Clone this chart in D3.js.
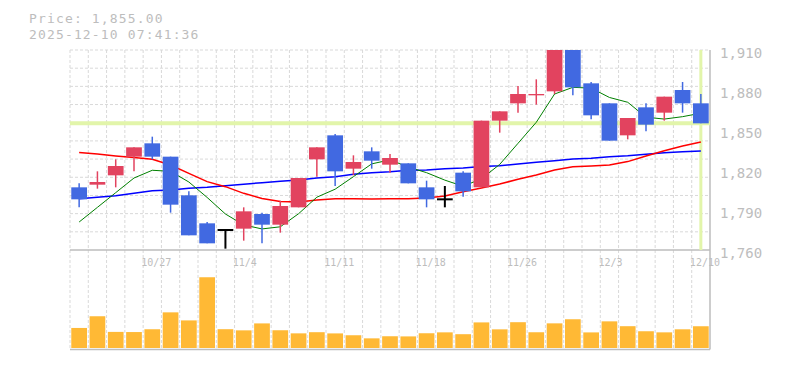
<!DOCTYPE html>
<html>
<head>
<meta charset="utf-8">
<script src="https://cdn.jsdelivr.net/npm/d3@7"></script>
<style>
  body { margin: 0; background: #fff; }
  svg { display: block; }
</style>
</head>
<body>
<div id="chart"></div>
<script>
// header
const priceLabel = "Price: 1,855.00";
const stampLabel = "2025-12-10 07:41:36";
const lastPrice = 1855;

// trading days
const dates = [
  "10/21","10/22","10/23","10/24","10/27","10/28","10/29","10/30","10/31",
  "11/4","11/5","11/6","11/7","11/10","11/11","11/12","11/13","11/14",
  "11/17","11/18","11/19","11/20","11/21","11/25","11/26","11/27","11/28",
  "12/1","12/2","12/3","12/4","12/5","12/8","12/9","12/10"
];
const dateTicks = ["10/27","11/4","11/11","11/18","11/26","12/3","12/10"];
const priceTicks = [1760, 1790, 1820, 1850, 1880, 1910];

// OHLC
const opens  = [1807,1809,1816,1830,1840,1830,1801,1780,1775,1776,1787,1779,1792,1828,1846,1821,1834,1824,1825,1807,1798,1818,1807,1857,1870,1876,1879,1910,1885,1870,1846,1867,1863,1880,1870];
const highs  = [1810,1819,1828,1837,1845,1830,1804,1781,1775,1792,1788,1797,1814,1837,1847,1831,1837,1832,1825,1812,1808,1819,1857,1864,1883,1888,1910,1910,1886,1870,1859,1870,1875,1886,1877];
const lows   = [1792,1806,1807,1819,1828,1788,1771,1765,1761,1767,1765,1773,1792,1815,1808,1816,1821,1818,1810,1792,1792,1800,1807,1848,1863,1869,1877,1876,1858,1842,1843,1849,1857,1863,1855];
const closes = [1798,1811,1823,1837,1830,1794,1771,1765,1775,1789,1779,1793,1814,1837,1819,1826,1827,1829,1810,1798,1798,1804,1857,1864,1877,1877,1910,1882,1861,1842,1859,1854,1875,1870,1855];

// volume (shares)
const volumes = [40100,63500,32200,31900,37500,71300,55200,141500,37600,35300,49200,35500,29300,31600,29200,25500,19300,23500,23200,29500,31300,27600,51200,37300,51600,31500,49300,57500,31200,53300,43600,33500,31300,37400,43500];

// moving averages
const maShort = [1781,1792,1803,1814,1819.8,1819,1811,1799.4,1787,1778.8,1775.8,1777.4,1787.2,1799.6,1805.6,1815,1824.6,1827.6,1822.2,1818,1812.4,1807.8,1813.4,1824.2,1840,1855.8,1877,1882,1881.4,1874.4,1870.8,1859.6,1858.2,1860,1862.6];
const maMid   = [1833.2,1832,1830.5,1829.3,1828,1823.7,1817.5,1811.3,1807.5,1802.5,1798.7,1796.3,1796,1797.5,1798.5,1798.5,1798.3,1798.5,1798.5,1799,1800.5,1803.7,1806.5,1809.5,1813,1816.3,1820,1822.5,1823,1823.8,1826.3,1830.5,1834.5,1838,1841];
const maLong  = [1798.5,1799.5,1800.7,1802.5,1804.5,1805,1806.3,1807,1808.2,1809.3,1810.5,1811.5,1812.5,1814,1815,1816.8,1818,1818.7,1819.8,1820,1821,1821.5,1822.6,1823.2,1824.5,1825.8,1827,1828.3,1828.8,1830,1830.7,1831.8,1833,1833.7,1834.3];

const width = 785, height = 370;
const left = 70, right = 710;
const priceTop = 50, priceBottom = 250;
const volTop = 250, volBottom = 349.5;

const UP = "#e2435f", DOWN = "#4169e1", VOL = "#ffb935";
const GRID = "#d9d9d9", FRAME = "#bdbdbd", TEXT = "#bdbdbd";
const MARK = "#e2f5aa";
const MONO = "'DejaVu Sans Mono', 'Liberation Mono', monospace";

const svg = d3.select("#chart").append("svg")
    .attr("width", width)
    .attr("height", height);

// scales
const x = d3.scaleBand()
    .domain(dates)
    .range([left, right])
    .paddingInner(0.14)
    .paddingOuter(0.07);
const cx = d => x(d) + x.bandwidth() / 2;
const edge = i => x(dates[i]) - (x.step() - x.bandwidth()) / 2;

const y = d3.scaleLinear().domain([1760, 1910]).range([priceBottom, priceTop]);
const yv = d3.scaleLinear().domain([0, 196000]).range([348, volTop]);

// grid
const grid = svg.append("g")
    .attr("stroke", GRID)
    .attr("stroke-dasharray", "3,2");
grid.selectAll("line.v")
  .data(d3.range(dates.length))
  .join("line")
    .attr("class", "v")
    .attr("x1", i => edge(i)).attr("x2", i => edge(i))
    .attr("y1", priceTop).attr("y2", volBottom);
grid.selectAll("line.h")
  .data(d3.range(11))
  .join("line")
    .attr("class", "h")
    .attr("x1", left).attr("x2", right)
    .attr("y1", k => priceTop + k * (priceBottom - priceTop) / 11)
    .attr("y2", k => priceTop + k * (priceBottom - priceTop) / 11);

// frame
const frame = svg.append("g").attr("stroke", FRAME).attr("stroke-width", 1.5);
frame.append("line").attr("x1", left).attr("x2", right).attr("y1", priceBottom).attr("y2", priceBottom);
frame.append("line").attr("x1", left).attr("x2", right).attr("y1", volBottom).attr("y2", volBottom);
frame.append("line").attr("x1", right).attr("x2", right).attr("y1", priceTop).attr("y2", volBottom);

// current price markers
const lastIdx = dates.length - 1;
svg.append("line")
    .attr("x1", left).attr("x2", right)
    .attr("y1", y(lastPrice)).attr("y2", y(lastPrice))
    .attr("stroke", MARK).attr("stroke-width", 4);
svg.append("line")
    .attr("x1", cx(dates[lastIdx])).attr("x2", cx(dates[lastIdx]))
    .attr("y1", priceTop).attr("y2", priceBottom)
    .attr("stroke", MARK).attr("stroke-width", 3);

// moving averages
const maLine = d3.line()
    .x((_, i) => cx(dates[i]))
    .y(v => y(v));
[[maLong, "#0000ff", 1.5], [maMid, "#ff0000", 1.5], [maShort, "#007f00", 1]].forEach(([vals, col, w]) => {
  svg.append("path")
      .datum(vals)
      .attr("fill", "none")
      .attr("stroke", col)
      .attr("stroke-width", w)
      .attr("d", maLine);
});

// candles
const candles = dates.map((d, i) => ({ d, o: opens[i], h: highs[i], l: lows[i], c: closes[i] }));
const colorOf = k => k.c > k.o ? UP : k.c < k.o ? DOWN : "#000";
const cg = svg.append("g").selectAll("g").data(candles).join("g");
cg.append("line")
    .attr("x1", k => cx(k.d)).attr("x2", k => cx(k.d))
    .attr("y1", k => y(k.h)).attr("y2", k => y(k.l))
    .attr("stroke", colorOf)
    .attr("stroke-width", k => k.c === k.o ? 2 : 1.5);
cg.filter(k => k.c !== k.o).append("rect")
    .attr("x", k => x(k.d))
    .attr("width", x.bandwidth())
    .attr("y", k => y(Math.max(k.o, k.c)))
    .attr("height", k => Math.max(1, Math.abs(y(k.o) - y(k.c))))
    .attr("fill", colorOf);
cg.filter(k => k.c === k.o).append("line")
    .attr("x1", k => x(k.d)).attr("x2", k => x(k.d) + x.bandwidth())
    .attr("y1", k => y(k.o)).attr("y2", k => y(k.o))
    .attr("stroke", "#000").attr("stroke-width", 2);

// volume bars
svg.append("g").selectAll("rect")
  .data(volumes)
  .join("rect")
    .attr("x", (_, i) => x(dates[i]))
    .attr("width", x.bandwidth())
    .attr("y", v => yv(v))
    .attr("height", v => yv(0) - yv(v))
    .attr("fill", VOL);

// price axis
const yAxis = svg.append("g")
    .attr("transform", `translate(${right},0)`)
    .call(d3.axisRight(y).tickValues(priceTicks).tickSize(0).tickPadding(10).tickFormat(d3.format(",")));
yAxis.select(".domain").remove();
yAxis.selectAll("text")
    .attr("dy", "0.54em")
    .attr("fill", TEXT)
    .style("font-family", MONO)
    .style("font-size", "14px");

// date axis inside the volume panel
const xAxis = svg.append("g")
    .attr("transform", `translate(0,${volTop})`)
    .call(d3.axisBottom(x).tickValues(dateTicks).tickSize(0).tickPadding(9));
xAxis.select(".domain").remove();
xAxis.selectAll("text")
    .attr("x", -11)
    .attr("text-anchor", "start")
    .attr("fill", TEXT)
    .style("font-family", MONO)
    .style("font-size", "10px");

// header text
[[priceLabel, 23], [stampLabel, 38.5]].forEach(([t, ty]) => {
  svg.append("text")
      .attr("x", 29).attr("y", ty)
      .attr("fill", TEXT)
      .style("font-family", MONO)
      .style("font-size", "13px")
      .style("letter-spacing", "1.15px")
      .text(t);
});
</script>
</body>
</html>
